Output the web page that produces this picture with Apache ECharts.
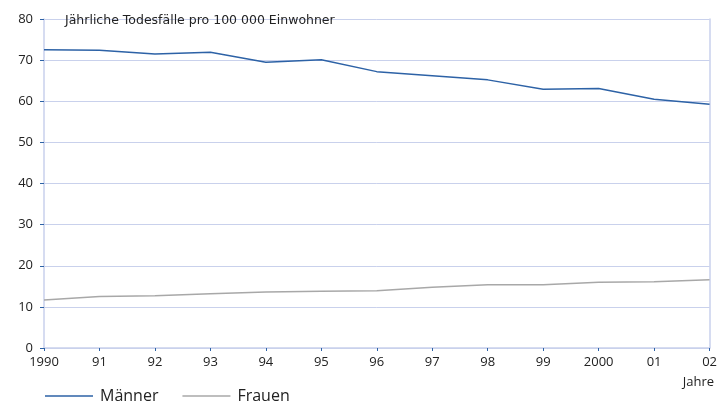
<!DOCTYPE html>
<html>
<head>
<meta charset="utf-8">
<script src="https://cdn.jsdelivr.net/npm/echarts@6/dist/echarts.min.js"></script>
<style>
  html, body { margin: 0; padding: 0; background: #fff; }
  #chart { width: 720px; height: 403px; }
</style>
</head>
<body>
<div id="chart"></div>
<script>
// Jahre (Kategorien der x-Achse)
const years = ['1990', '91', '92', '93', '94', '95', '96', '97', '98', '99', '2000', '01', '02']
// Jährliche Todesfälle pro 100 000 Einwohner
const maenner = [72.5, 72.4, 71.5, 71.9, 69.5, 70.1, 67.2, 66.2, 65.2, 62.9, 63.1, 60.5, 59.3]
const frauen = [11.7, 12.5, 12.7, 13.2, 13.6, 13.8, 13.9, 14.8, 15.4, 15.4, 16.0, 16.1, 16.6]

const font = 'Open Sans'
const gridColor = '#c9d1ec'
const tickColor = '#2d62a6'

const chart = echarts.init(document.getElementById('chart'))
chart.setOption({
  animation: false,
  textStyle: { fontFamily: font },
  title: {
    text: 'Jährliche Todesfälle pro 100 000 Einwohner',
    left: 60,
    top: 9,
    textStyle: { fontFamily: 'DejaVu Sans', fontSize: 12.5, fontWeight: 'normal', color: '#222' }
  },
  grid: { left: 44, right: 6, top: 19, bottom: 55 },
  legend: {
    left: 40,
    top: 383,
    icon: 'rect',
    itemWidth: 48,
    itemHeight: 1.5,
    itemGap: 24,
    textStyle: { fontFamily: font, fontSize: 16, color: '#222', padding: [0, 0, 0, 2] },
    data: ['Männer', 'Frauen']
  },
  graphic: [{
    type: 'text',
    right: 6,
    top: 376,
    style: { text: 'Jahre', fontFamily: font, fontSize: 13, fill: '#222' }
  }],
  xAxis: {
    type: 'category',
    boundaryGap: false,
    data: years,
    axisLine: { lineStyle: { color: gridColor, width: 1.5 } },
    axisTick: { show: true, length: 3, lineStyle: { color: tickColor } },
    axisLabel: { color: '#222', fontSize: 13, margin: 8, showMaxLabel: true },
    splitLine: { show: false }
  },
  yAxis: [{
    type: 'value',
    min: 0,
    max: 80,
    interval: 10,
    axisLine: { show: true, lineStyle: { color: gridColor, width: 1.5 } },
    axisTick: { show: true, length: 4, lineStyle: { color: tickColor } },
    axisLabel: { color: '#222', fontSize: 13, margin: 11 },
    splitLine: { lineStyle: { color: gridColor, width: 1 } }
  }, {
    type: 'value',
    position: 'right',
    min: 0,
    max: 80,
    interval: 10,
    axisLine: { show: true, lineStyle: { color: gridColor, width: 1.5 } },
    axisTick: { show: false },
    axisLabel: { show: false },
    splitLine: { show: false }
  }],
  series: [{
    name: 'Männer',
    type: 'line',
    data: maenner,
    symbol: 'none',
    color: '#2d62a6',
    lineStyle: { width: 1.5 }
  }, {
    name: 'Frauen',
    type: 'line',
    data: frauen,
    symbol: 'none',
    color: '#a8a8a8',
    lineStyle: { width: 1.5 }
  }]
})
</script>
</body>
</html>
